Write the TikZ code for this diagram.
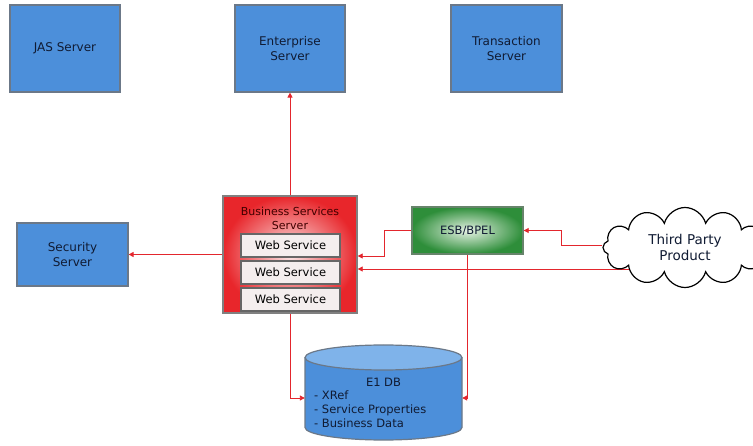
\documentclass[tikz,border=0pt]{standalone}
\usepackage{fontspec}
\setmainfont{DejaVu Sans}
\usetikzlibrary{arrows.meta,shapes.symbols,backgrounds,calc}
\definecolor{boxblue}{HTML}{4C8FDA}
\definecolor{boxedge}{HTML}{6B7888}
\definecolor{navy}{HTML}{101B33}
\definecolor{linered}{HTML}{E3262D}
\definecolor{dbtop}{HTML}{7FB3EA}
\definecolor{bssred}{HTML}{E8262B}
\definecolor{bssin}{HTML}{FBE6E6}
\definecolor{esbgreen}{HTML}{2E8E3A}
\definecolor{esbin}{HTML}{E6F2E4}
\definecolor{wsfill}{HTML}{F4EEEE}
\tikzset{
  srv/.style={draw=boxedge, line width=1.2pt, fill=boxblue, text=navy, align=center,
    font=\fontsize{12}{15}\selectfont, inner sep=0pt},
  wsbox/.style={draw=gray!80!black, line width=1.4pt, fill=wsfill, text=black,
    minimum width=99pt, minimum height=23pt, font=\fontsize{11.5}{13}\selectfont, inner sep=0pt},
  conn/.style={draw=linered, line width=0.9pt, -{Triangle[length=5pt,width=5pt]}},
}
\begin{document}
\begin{tikzpicture}[x=1pt,y=-1pt]
\useasboundingbox (0,0) rectangle (753,446);
\begin{pgfonlayer}{background}
\fill[white] (0,0) rectangle (753,446);
\end{pgfonlayer}

% servers
\node[srv, minimum width=110pt, minimum height=87pt] (jas) at (65,48.5) {JAS Server};
\node[srv, minimum width=110pt, minimum height=87pt] (ent) at (290,48.5) {Enterprise\\Server};
\node[srv, minimum width=111pt, minimum height=87pt] (trn) at (506.5,48.5) {Transaction\\Server};
\node[srv, minimum width=111pt, minimum height=63pt] (sec) at (72.5,254.5) {Security\\Server};

% business services server
\node[draw=gray, line width=1.4pt, shade, shading=radial, inner color=bssin, outer color=bssred,
  minimum width=134pt, minimum height=117pt] (bss) at (290,254.5) {};
\node[text=black!75!red, align=center, font=\fontsize{11}{13.5}\selectfont] (bsst) at (290,218.5) {Business Services\\Server};
\node[wsbox] (ws1) at (290.5,245.5) {Web Service};
\node[wsbox] (ws2) at (290.5,272.5) {Web Service};
\node[wsbox] (ws3) at (290.5,299.5) {Web Service};

% ESB
\node[draw=gray!70!esbgreen, line width=1.4pt, shade, shading=radial, inner color=esbin, outer color=esbgreen,
  minimum width=111pt, minimum height=47pt, font=\fontsize{11.5}{13}\selectfont, text=navy] (esb) at (467.5,230.5) {ESB/BPEL};

% cloud
\node[cloud, cloud puffs=12, aspect=2.0, draw=black, line width=1.2pt, fill=white,
  minimum width=164pt, minimum height=80pt, align=center, text=navy,
  font=\fontsize{13.5}{16}\selectfont] (cloud) at (685,247.5) {Third Party\\Product};

% database
\node[minimum width=157pt, minimum height=95pt, inner sep=0pt] (db) at (383.5,392.5) {};
\fill[boxblue] (305,357.5) -- (305,427.5) arc[start angle=180, end angle=360, x radius=78.5pt, y radius=12.5pt] -- (462,357.5) -- cycle;
\draw[boxedge, line width=1.2pt] (305,357.5) -- (305,427.5) arc[start angle=180, end angle=360, x radius=78.5pt, y radius=12.5pt] -- (462,357.5);
\draw[boxedge, line width=1.2pt, fill=dbtop] (383.5,357.5) ellipse [x radius=78.5pt, y radius=12.5pt];
\node[text=navy, font=\fontsize{11.5}{13}\selectfont] (dbt) at (383.5,382) {E1 DB};
\node[text=navy, align=left, anchor=north west, font=\fontsize{11.5}{14}\selectfont, inner sep=0pt] (dbl) at (314,391) {- XRef\\- Service Properties\\- Business Data};

% connectors
\begin{pgfonlayer}{background}
\coordinate (j1) at (384,256);
\coordinate (j2) at (561,230.5);
\coordinate (j3) at (650,269);
\draw[conn] (bss.north) -- (ent.south);
\draw[conn] (bss.west) -- (sec.east);
\draw[conn] (esb.west) -| (j1) -- (j1 -| bss.east);
\draw[conn] ($(cloud.west)+(0,-2.5)$) -| (j2) -- (esb.east);
\draw[conn] (j3) -- (j3 -| bss.east);
\draw[conn] (bss.south) |- ($(db.west)+(0,5.5)$);
\draw[conn] (esb.south) |- ($(db.east)+(0,5.5)$);
\end{pgfonlayer}
\end{tikzpicture}
\end{document}
